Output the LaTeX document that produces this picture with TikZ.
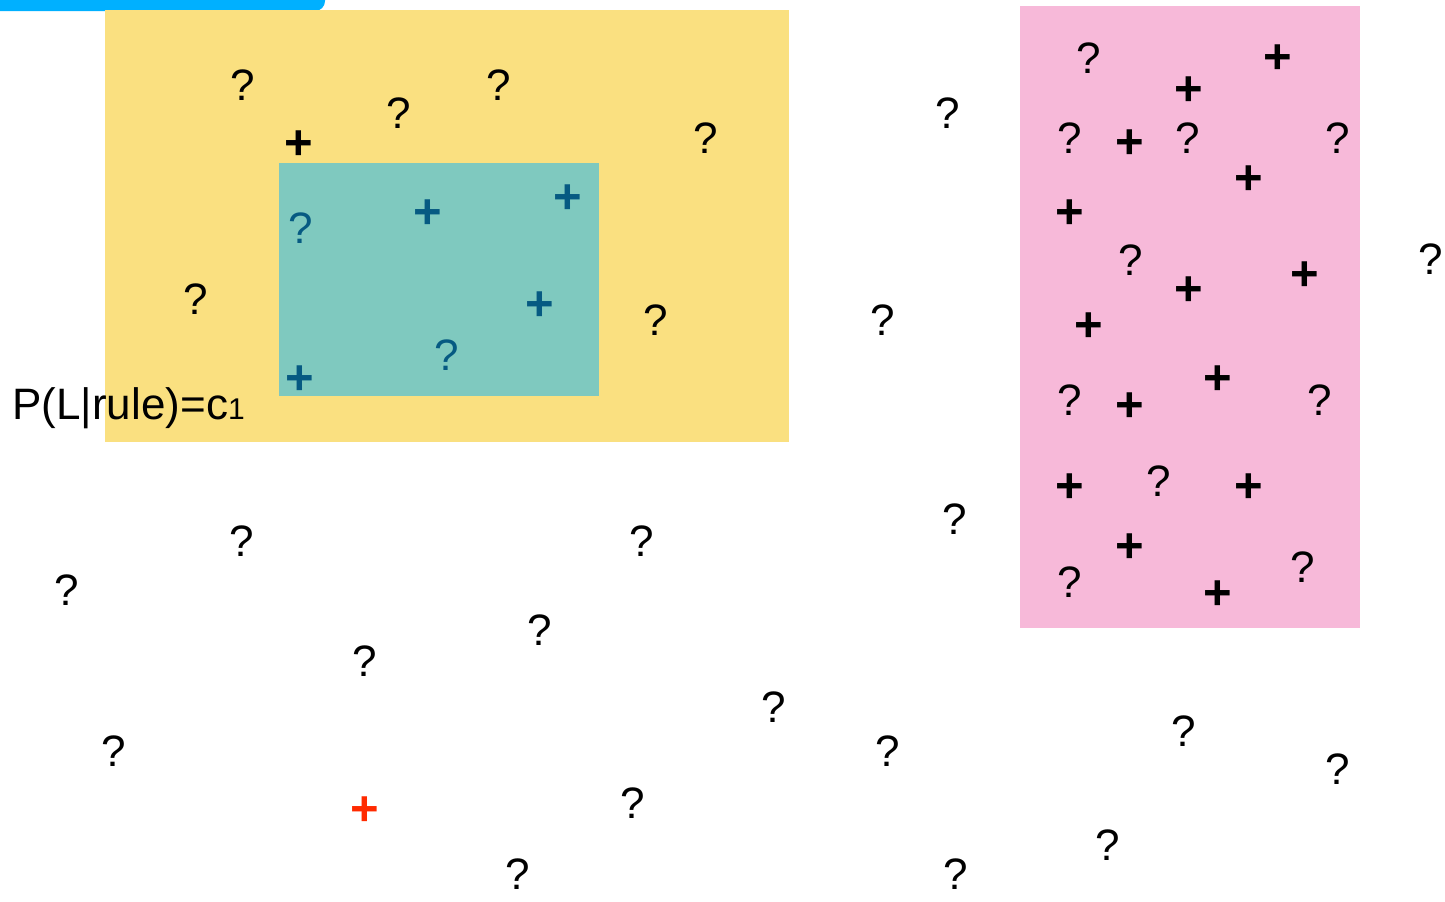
\documentclass[tikz,border=0pt]{standalone}
\usepackage{fontspec}
\setmainfont{Liberation Sans}
\usepackage{tikz}
\usepackage{xcolor}
\definecolor{rlblue}{HTML}{00B0FF}
\definecolor{rlyellow}{HTML}{FAE080}
\definecolor{rlteal}{HTML}{7FC9BF}
\definecolor{rlpink}{HTML}{F7B9D9}
\definecolor{rldark}{HTML}{065A82}
\definecolor{rlred}{HTML}{FF2A00}
\tikzset{
  qMark/.style={font=\fontsize{22}{26}\selectfont, inner sep=0pt, xshift=0.5pt},
  pMark/.style={font=\fontsize{24.5}{28}\selectfont\bfseries, inner sep=0pt, yshift=-1pt, xshift=0.5pt},
  ruleLabel/.style={font=\fontsize{22}{26}\selectfont, inner sep=0pt, anchor=base west}
}

\begin{document}
\begin{tikzpicture}[x=0.5pt, y=-0.5pt]
  \useasboundingbox (0,0) rectangle (1445,901);
  \clip (0,0) rectangle (1445,901);
  % regions
  \fill[rlblue, rounded corners=5pt] (-20,-20) rectangle (325,11);
  \fill[rlyellow] (105,10) rectangle (789,442);
  \fill[rlteal] (279,163) rectangle (599,396);
  \fill[rlpink] (1020,6) rectangle (1360,628);
  % unlabelled examples
  \foreach \x/\y [count=\i] in {242/85, 398/113, 498/85, 705/138, 195/299, 655/320,
      947/113, 882/320, 1430/259, 241/541, 641/541, 66/590, 954/519, 539/630,
      364/661, 773/707, 113/751, 887/751, 1183/731, 1337/769, 632/803, 1107/845,
      517/874, 955/874}
    \node[qMark] (qa\i) at (\x,\y) {?};
  \foreach \x/\y [count=\i] in {1088/58, 1069/138, 1187/138, 1337/138, 1130/260,
      1069/400, 1319/400, 1158/481, 1069/582, 1302/567}
    \node[qMark] (qb\i) at (\x,\y) {?};
  \foreach \x/\y [count=\i] in {300/228, 446/355}
    \node[qMark, text=rldark] (qc\i) at (\x,\y) {?};
  % positive examples
  \foreach \x/\y [count=\i] in {298/143, 1277/57, 1188/89, 1129/142, 1248/178,
      1069/212, 1188/289, 1304/274, 1088/325, 1217/378, 1129/405, 1069/486,
      1248/486, 1129/546, 1217/593}
    \node[pMark] (pa\i) at (\x,\y) {+};
  \foreach \x/\y [count=\i] in {427/212, 567/197, 539/304, 299/378}
    \node[pMark, text=rldark] (pc\i) at (\x,\y) {+};
  \node[pMark, text=rlred] (pred) at (364,809) {+};
  % rule probability
  \node[ruleLabel] (prob) at (12,419) {P(L|rule)=c{\fontsize{15}{18}\selectfont 1}};
\end{tikzpicture}
\end{document}
